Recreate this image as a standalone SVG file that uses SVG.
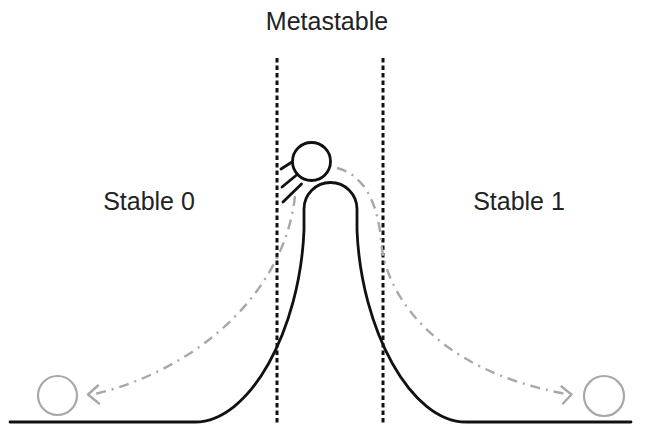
<svg xmlns="http://www.w3.org/2000/svg" width="646" height="425" viewBox="0 0 646 425">
<defs>
<style>
.lbl{font-family:"Liberation Sans",Arial,sans-serif;font-size:25px;fill:#222}
.bound{stroke:#111;stroke-width:3;stroke-dasharray:4.5 3;fill:none}
.solid{stroke:#111;stroke-width:2.8;fill:none;stroke-linecap:round;stroke-linejoin:round}
.traj{stroke:#a8a8a8;stroke-width:2.4;fill:none;stroke-dasharray:10 6 2 6}
.head{stroke:#a8a8a8;stroke-width:2.4;fill:none;stroke-linecap:round;stroke-linejoin:round}
.ghost{stroke:#a8a8a8;stroke-width:2.2;fill:none}
</style>
</defs>
<rect width="646" height="425" fill="#fff"/>
<g id="labels">
<text class="lbl" x="327" y="30" text-anchor="middle">Metastable</text>
<text class="lbl" x="149" y="210" text-anchor="middle">Stable 0</text>
<text class="lbl" x="519" y="210" text-anchor="middle">Stable 1</text>
</g>
<g id="boundaries">
<line class="bound" x1="277" y1="58" x2="277" y2="425"/>
<line class="bound" x1="383" y1="58" x2="383" y2="425"/>
</g>
<g id="landscape">
<path class="solid" d="M 10 422 L 195 422 C 250 422 300 330 304 230 L 304 209 A 26.5 26.5 0 0 1 357 209 L 357 230 C 361 330 411 422 466 422 L 631 422"/>
</g>
<g id="ball">
<circle class="solid" cx="311.5" cy="161.5" r="19"/>
<line class="solid" x1="281" y1="169" x2="292" y2="162"/>
<line class="solid" x1="282" y1="187" x2="296" y2="175.5"/>
<line class="solid" x1="283" y1="202" x2="301.5" y2="184"/>
</g>
<g id="connectors">
<path class="traj" d="M 295 196 C 285 290 200 370 91 395"/>
<path class="head" d="M 98 385.5 L 88 394.5 L 99 403.5"/>
<path class="traj" d="M 337 168 C 365 175 378 205 381 240 C 384 290 430 370 569 394.5"/>
<path class="head" d="M 561.5 386.5 L 571.5 394.5 L 563 403.5"/>
</g>
<g id="state0">
<circle class="ghost" cx="57.5" cy="395.5" r="19.5"/>
</g>
<g id="state1">
<circle class="ghost" cx="604" cy="396" r="20"/>
</g>
</svg>
